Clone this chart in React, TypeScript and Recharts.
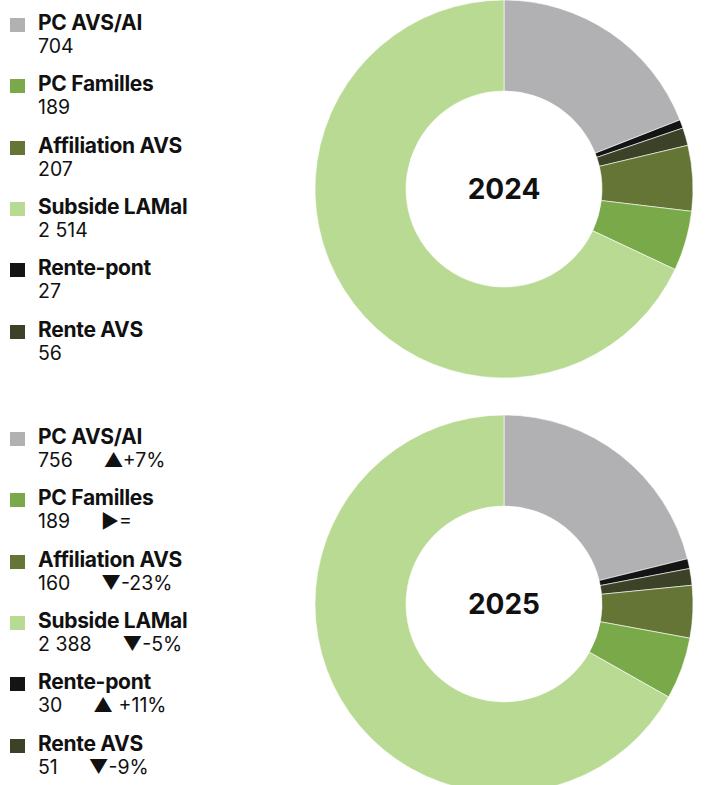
import React from 'react';
import { PieChart, Pie, Cell } from 'recharts';

// legend order
const categories = ['PC AVS/AI', 'PC Familles', 'Affiliation AVS', 'Subside LAMal', 'Rente-pont', 'Rente AVS'];
const colors = ['#b1b1b4', '#79a948', '#657536', '#b8da92', '#141414', '#3b4227'];
const values2024 = [704, 189, 207, 2514, 27, 56];
const values2025 = [756, 189, 160, 2388, 30, 51];
const changes2025 = ['▲+7%', '▶=', '▼-23%', '▼-5%', '▲ +11%', '▼-9%'];
// slices clockwise from 12 o'clock, as indexes into categories
const sliceOrder = [0, 4, 5, 2, 1, 3];

const FONT = 'Inter, "Noto Sans", sans-serif';
const CX = 504;

function fmt(n: number) {
  return String(n).replace(/\B(?=(\d{3})+(?!\d))/g, ' ');
}

interface LegendProps {
  values: number[];
  changes?: string[];
}

function YearLegend({ values, changes }: LegendProps) {
  return (
    <div style={{ position: 'absolute', left: 0, top: 0, fontFamily: FONT, color: '#111' }}>
      {categories.map((c, i) => (
        <div key={c} style={{ position: 'absolute', left: 0, top: 11 + i * 61.3, width: 260 }}>
          <div
            style={{
              position: 'absolute',
              left: 10,
              top: 7,
              width: 15,
              height: 14,
              background: colors[i],
            }}
          />
          <div style={{ position: 'absolute', left: 38, top: 0, fontSize: 21, fontWeight: 700, lineHeight: '24px', whiteSpace: 'nowrap', letterSpacing: -0.3 }}>
            {c}
          </div>
          <div style={{ position: 'absolute', left: 38, top: 24, fontSize: 19.5, lineHeight: '23px', whiteSpace: 'nowrap' }}>
            {fmt(values[i])}
            {changes && <span style={{ marginLeft: 31 }}>{changes[i]}</span>}
          </div>
        </div>
      ))}
    </div>
  );
}

function YearDonut({ year, values, changes, cy }: { year: string; values: number[]; changes?: string[]; cy: number }) {
  const data = sliceOrder.map(i => ({ name: categories[i], value: values[i], color: colors[i] }));
  return (
    <div style={{ position: 'relative', width: 706, height: 414 }}>
      <PieChart width={706} height={414} margin={{ top: 0, right: 0, bottom: 0, left: 0 }}>
        <Pie
          data={data}
          dataKey="value"
          nameKey="name"
          cx={CX}
          cy={cy}
          innerRadius={98}
          outerRadius={189}
          startAngle={90}
          endAngle={-270}
          stroke="#ffffff"
          strokeWidth={0.6}
          isAnimationActive={false}
        >
          {data.map(d => (
            <Cell key={d.name} fill={d.color} />
          ))}
        </Pie>
      </PieChart>
      <div
        style={{
          position: 'absolute',
          left: CX,
          top: cy,
          transform: 'translate(-50%, -50%)',
          fontFamily: FONT,
          fontSize: 28,
          fontWeight: 700,
          lineHeight: '34px',
          color: '#111',
        }}
      >
        {year}
      </div>
      <YearLegend values={values} changes={changes} />
    </div>
  );
}

export default function App() {
  return (
    <div style={{ position: 'absolute', left: 0, top: 0, width: 706, height: 785, overflow: 'hidden', background: '#fff' }}>
      <YearDonut year="2024" values={values2024} cy={189} />
      <YearDonut year="2025" values={values2025} changes={changes2025} cy={190} />
    </div>
  );
}
